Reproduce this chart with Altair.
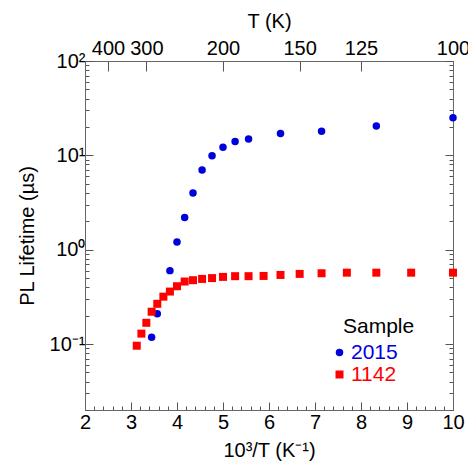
import altair as alt
import pandas as pd

# ---- data ----
T_2015 = [290, 280, 260, 250, 240, 230, 220, 210, 200, 190, 180, 160, 140, 120, 100]
tau_2015 = [0.118, 0.21, 0.6, 1.21, 2.19, 3.98, 7.0, 9.9, 12.2, 14.0, 14.9, 17.0, 18.0, 20.5, 25.0]

T_1142 = [320, 310, 300, 290, 280, 270, 260, 250, 240, 230, 220, 210, 200, 190, 180,
          170, 160, 150, 140, 130, 120, 110, 100]
tau_1142 = [0.096, 0.129, 0.168, 0.22, 0.267, 0.318, 0.36, 0.41, 0.46, 0.475, 0.49, 0.50,
            0.515, 0.524, 0.524, 0.527, 0.54, 0.554, 0.563, 0.571, 0.571, 0.571, 0.571]

samples = ["2015", "1142"]
colors = ["#0000DD", "#FF0000"]
shapes = ["circle", "square"]

T_ticks_top = [400, 300, 200, 150, 125, 100]
x_ticks_bottom = [round(2 + 0.2 * i, 4) for i in range(41)]
y_ticks = [round(m * 10 ** e, 8) for e in range(-2, 2) for m in range(1, 10)] + [100]
y_ticks = [v for v in y_ticks if v >= 0.02]

rows = []
for t, v in zip(T_2015, tau_2015):
    rows.append({"T": t, "tau": v, "Sample": "2015"})
for t, v in zip(T_1142, tau_1142):
    rows.append({"T": t, "tau": v, "Sample": "1142"})
df = pd.DataFrame(rows)
df["invT"] = 1000.0 / df["T"]

FONT = "Liberation Sans"
xscale = alt.Scale(domain=[2, 10], nice=False, zero=False)
yscale = alt.Scale(type="log", domain=[0.02, 100], nice=False)

major_y = "abs(log(datum.value)/LN10 - round(log(datum.value)/LN10)) < 1e-6"
major_x = "abs(datum.value - round(datum.value)) < 1e-6"

y_label_expr = ("datum.value == 100 ? '10²' : datum.value == 10 ? '10¹' : "
                "datum.value == 1 ? '10⁰' : abs(datum.value - 0.1) < 1e-9 ? '10⁻¹' : ''")

axis_common = dict(grid=False, domainColor="#666666", tickColor="#555555",
                   labelColor="black", titleColor="black", labelFont=FONT, titleFont=FONT,
                   labelFontSize=20, titleFontSize=20, titleFontWeight="normal",
                   labelFlush=False, labelOverlap=False)

base = alt.Chart(df)

points = base.mark_point(filled=True, opacity=1, strokeWidth=0).encode(
    x=alt.X("invT:Q", scale=xscale,
            axis=alt.Axis(orient="bottom", values=x_ticks_bottom,
                          labelExpr=f"{major_x} ? format(datum.value, 'd') : ''",
                          tickSize={"condition": {"test": major_x, "value": -8}, "value": -4},
                          labelPadding=10, title="10³/T (K⁻¹)", titlePadding=4,
                          **axis_common)),
    y=alt.Y("tau:Q", scale=yscale,
            axis=alt.Axis(orient="left", values=y_ticks, labelExpr=y_label_expr,
                          tickSize={"condition": {"test": major_y, "value": -8}, "value": -4},
                          labelPadding=8, title="PL Lifetime (µs)", titlePadding=12,
                          **axis_common)),
    color=alt.Color("Sample:N", scale=alt.Scale(domain=samples, range=colors),
                    legend=alt.Legend(orient="none", legendX=258, legendY=255,
                                      title="Sample", titleFont=FONT, titleFontSize=21,
                                      titleFontWeight="normal", titleColor="black",
                                      titleAnchor="start",
                                      labelFont=FONT, labelFontSize=21,
                                      labelColor={"expr": "datum.value == '2015' ? '#0000DD' : '#FF0000'"},
                                      symbolSize=40, symbolOffset=-14, rowPadding=0, titlePadding=5,
                                      labelOffset=1)),
    shape=alt.Shape("Sample:N", scale=alt.Scale(domain=samples, range=shapes)),
    size=alt.Size("Sample:N", scale=alt.Scale(domain=samples, range=[56, 64])),
)

frame = base.mark_point(opacity=0).encode(
    x=alt.X("invT:Q", scale=xscale,
            axis=alt.Axis(orient="top", values=[1000.0 / t for t in T_ticks_top],
                          labelExpr="format(round(1000 / datum.value), 'd')",
                          tickSize={"expr": "-10"}, labelPadding=13, title="T (K)", titlePadding=7,
                          **axis_common)),
    y=alt.Y("tau:Q", scale=yscale,
            axis=alt.Axis(orient="right", values=y_ticks, labels=False,
                          tickSize={"condition": {"test": major_y, "value": -8}, "value": -4},
                          title="", **axis_common)),
)

chart = alt.layer(points, frame).resolve_axis(x="independent", y="independent").properties(
    width=368, height=349,
    autosize=alt.AutoSizeParams(type="none"),
    padding={"left": 85, "top": 61, "right": 15, "bottom": 54},
).configure(font=FONT).configure_view(stroke="#666666")

chart.save("out.html", embed_options={"renderer": "svg", "actions": False})
